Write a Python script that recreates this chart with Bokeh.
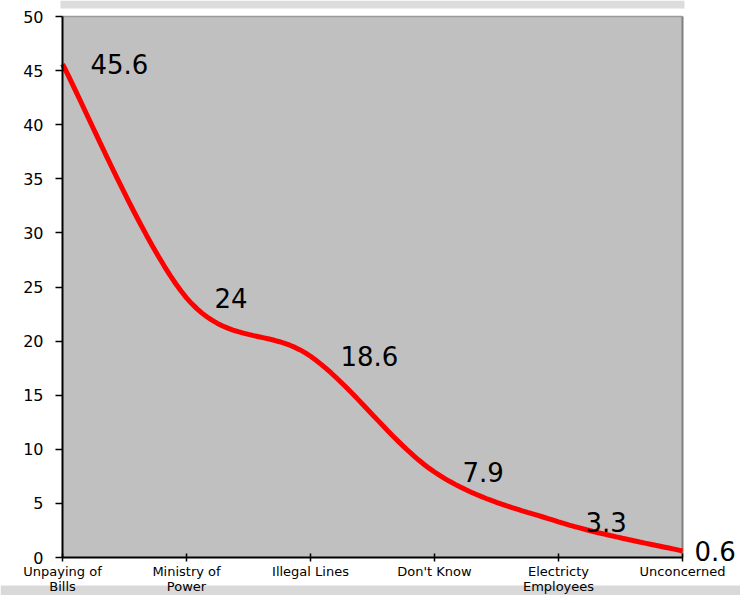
from bokeh.plotting import figure
from bokeh.models import ColumnDataSource, FixedTicker, Range1d
from bokeh.core.properties import value
from bokeh.embed import file_html
from bokeh.resources import INLINE

categories = ["Unpaying of\nBills", "Ministry of\nPower", "Illegal Lines",
              "Don't Know", "Electricty\nEmployees", "Unconcerned"]
values = [45.6, 24, 18.6, 7.9, 3.3, 0.6]
labels = ["45.6", "24", "18.6", "7.9", "3.3", "0.6"]
y_ticks = [0, 5, 10, 15, 20, 25, 30, 35, 40, 45, 50]

xs = list(range(len(categories)))
x_max = len(categories) - 1
y_max = 50

# Smoothed line (Catmull-Rom through the data points, drawn in data space)
def smooth(px, py, steps=24):
    ox, oy = [], []
    n = len(px)
    for i in range(n - 1):
        p0 = (px[max(i - 1, 0)], py[max(i - 1, 0)])
        p1 = (px[i], py[i])
        p2 = (px[i + 1], py[i + 1])
        p3 = (px[min(i + 2, n - 1)], py[min(i + 2, n - 1)])
        for s in range(steps):
            t = s / steps
            t2, t3 = t * t, t * t * t
            for k, out in ((0, ox), (1, oy)):
                out.append(0.5 * ((2 * p1[k]) + (-p0[k] + p2[k]) * t +
                                  (2 * p0[k] - 5 * p1[k] + 4 * p2[k] - p3[k]) * t2 +
                                  (-p0[k] + 3 * p1[k] - 3 * p2[k] + p3[k]) * t3))
    ox.append(px[-1]); oy.append(py[-1])
    return ox, oy

sx, sy = smooth(xs, values)

# layout in pixels (canvas 740 x 595); plot area 62..682 x 16..557
W, H = 740, 595
L, R, T, B = 62, 682, 16, 557
xpx = (R - L) / x_max
ypx = (B - T) / y_max
x0, x1 = -L / xpx, x_max + (W - R) / xpx
y0, y1 = -(H - B) / ypx, y_max + T / ypx

p = figure(width=W, height=H, output_backend="svg", toolbar_location=None,
           x_range=Range1d(x0, x1), y_range=Range1d(y0, y1),
           min_border=0)
p.background_fill_color = "white"
p.border_fill_color = "white"
p.outline_line_color = None
p.grid.visible = False

# light band at top of the slide
p.quad(left=-2 / xpx, right=x_max + 2 / xpx, bottom=y_max + (T - 8) / ypx, top=y1,
       fill_color="#dcdcdc", line_color=None)

# textured band at bottom of the slide
band_top = y0 + (H - 585) / ypx
p.quad(left=x0, right=x1, bottom=y0, top=band_top,
       fill_color="#d9d9d9", line_color=None)

# plot area
p.quad(left=0, right=x_max, bottom=0, top=y_max,
       fill_color="#c0c0c0", line_color=None)
p.segment(x0=[0], y0=[y_max], x1=[x_max], y1=[y_max],
          line_color="#9a9a9a", line_width=1.5)
p.segment(x0=[x_max], y0=[0], x1=[x_max], y1=[y_max],
          line_color="#808080", line_width=2)

p.line(sx, sy, line_color="#ff0000", line_width=5)

offsets = [28, 28, 30, 28, 27, 12]
src = ColumnDataSource(dict(x=xs, y=values, t=labels, off=offsets))
p.text("x", "y", text="t", source=src, x_offset="off",
       text_font=value("DejaVu Sans"), text_font_size="26px",
       text_color="black", text_align="left", text_baseline="middle")

# category labels: two rows of text under each tick
line1 = [c.split("\n")[0] for c in categories]
line2 = [c.split("\n")[1] if "\n" in c else "" for c in categories]
csrc = ColumnDataSource(dict(x=xs, y=[0] * len(xs), t1=line1, t2=line2))
for col, off in (("t1", 14), ("t2", 29)):
    p.text("x", "y", text=col, source=csrc, y_offset=off,
           text_font=value("DejaVu Sans"), text_font_size="13px",
           text_color="black", text_align="center", text_baseline="middle")

# y axis
yax = p.yaxis[0]
yax.fixed_location = 0
yax.bounds = (0, y_max)
yax.ticker = FixedTicker(ticks=y_ticks)
yax.axis_line_color = "black"
yax.axis_line_width = 2
yax.major_tick_line_color = "black"
yax.major_tick_line_width = 1.5
yax.major_tick_out = 7
yax.major_tick_in = 0
yax.minor_tick_line_color = None
yax.major_label_standoff = 12
yax.major_label_text_font = "DejaVu Sans"
yax.major_label_text_font_size = "16px"
yax.major_label_text_color = "black"

# x axis
xax = p.xaxis[0]
xax.fixed_location = 0
xax.bounds = (0, x_max)
xax.ticker = FixedTicker(ticks=xs)
xax.major_label_overrides = {i: "" for i in xs}
xax.axis_line_color = "black"
xax.axis_line_width = 2
xax.major_tick_line_color = "black"
xax.major_tick_line_width = 1.5
xax.major_tick_out = 4
xax.major_tick_in = 4
xax.minor_tick_line_color = None

open("out.html", "w").write(file_html(p, INLINE))
